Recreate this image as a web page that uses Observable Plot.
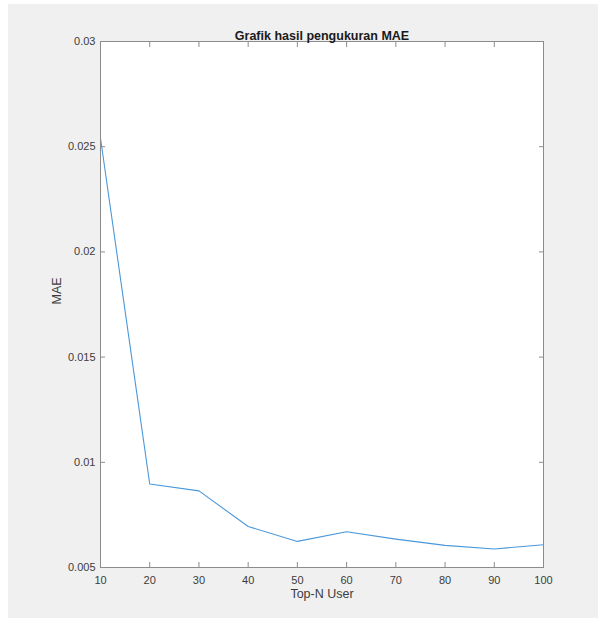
<!DOCTYPE html>
<html><head><meta charset="utf-8">
<script src="https://cdn.jsdelivr.net/npm/d3@7"></script>
<script src="https://cdn.jsdelivr.net/npm/@observablehq/plot@0.6"></script>
<style>
body{margin:0;background:#fff;}
#bg{position:absolute;left:8px;top:4px;width:590px;height:614px;background:#f0f0f0;}
#chart{position:absolute;left:0;top:0;}
</style></head><body>
<div id="bg"></div><div id="chart"></div>
<script>
const topN = [10, 20, 30, 40, 50, 60, 70, 80, 90, 100];
const mae = [0.0254, 0.00897, 0.00864, 0.00695, 0.00624, 0.0067, 0.00635, 0.00605, 0.00588, 0.00608];
const xTicks = [10, 20, 30, 40, 50, 60, 70, 80, 90, 100];
const yTicks = [0.005, 0.01, 0.015, 0.02, 0.025, 0.03];
const yTickLabels = ["0.005", "0.01", "0.015", "0.02", "0.025", "0.03"];
const titleText = "Grafik hasil pengukuran MAE";
const xLabel = "Top-N User";
const yLabel = "MAE";

const data = topN.map((n, i) => ({n, mae: mae[i]}));
const axisColor = "#8c8c8c";
const textColor = "#3c3c3c";
const yFmt = d => yTickLabels[yTicks.findIndex(t => Math.abs(t - d) < 1e-9)] ?? "";

const chart = Plot.plot({
  width: 598, height: 620,
  marginLeft: 100, marginRight: 55, marginTop: 41, marginBottom: 53,
  style: {background: "transparent", fontFamily: "'Liberation Sans', Arial, sans-serif", fontSize: "11px", color: textColor},
  x: {domain: [10, 100], label: null},
  y: {domain: [0.005, 0.03], label: null},
  marks: [
    Plot.frame({fill: "white", stroke: "none"}),
    Plot.line(data, {x: "n", y: "mae", stroke: "#4a98da", strokeWidth: 1.1}),
    Plot.frame({stroke: axisColor}),
    Plot.axisX(xTicks, {anchor: "bottom", tickSize: -5, tickPadding: 14, stroke: axisColor, fill: textColor, label: null}),
    Plot.axisX(xTicks, {anchor: "top", tickSize: -5, tickFormat: () => "", stroke: axisColor, label: null}),
    Plot.axisY(yTicks, {anchor: "left", tickSize: -5, tickPadding: 10, tickFormat: yFmt, stroke: axisColor, fill: textColor, label: null}),
    Plot.axisY(yTicks, {anchor: "right", tickSize: -5, tickFormat: () => "", stroke: axisColor, label: null}),
    Plot.text([titleText], {frameAnchor: "top", dy: -10, fontWeight: "bold", fontSize: 12.5, fill: "#1a1a1a"}),
    Plot.text([xLabel], {frameAnchor: "bottom", dy: 30, fontSize: 12.5, fill: textColor}),
    Plot.text([yLabel], {frameAnchor: "left", dx: -44, rotate: -90, fontSize: 12.5, fill: textColor})
  ]
});
document.getElementById("chart").append(chart);
</script>
</body></html>
